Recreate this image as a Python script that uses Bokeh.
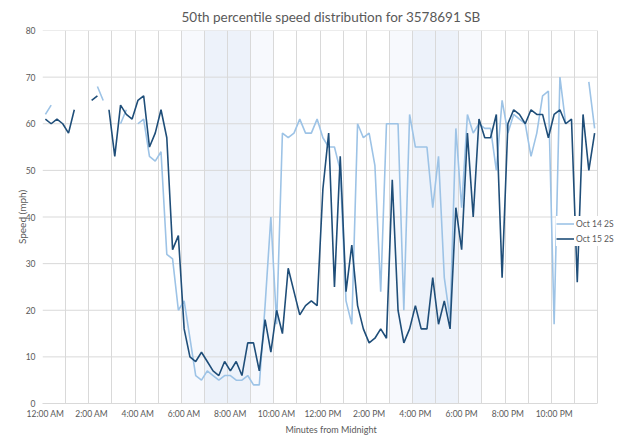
import numpy as np
from bokeh.plotting import figure
from bokeh.models import Range1d, FixedTicker, BoxAnnotation
from bokeh.embed import file_html
from bokeh.resources import INLINE

# 15-minute bins, minutes from midnight
minutes = list(range(0, 1440, 15))

oct14 = [62, 64, None, None, None, None, None, None, None, 68,
         65, None, None, 60, 63, None, 60, 61, 53, 52,
         54, 32, 31, 20, 22, 14, 6, 5, 7, 6,
         5, 6, 6, 5, 5, 6, 4, 4, 21, 40,
         17, 58, 57, 58, 61, 58, 58, 61, 57, 55,
         55, 50, 22, 17, 60, 57, 58, 51, 24, 60,
         60, 60, 20, 62, 55, 55, 55, 42, 53, 27,
         18, 59, 42, 62, 58, 60, 59, 59, 50, 65,
         58, 62, 61, 60, 53, 58, 66, 67, 17, 70,
         60, None, None, None, 69, 59]

oct15 = [61, 60, 61, 60, 58, 63, None, None, 65, 66,
         None, 63, 53, 64, 62, 61, 65, 66, 55, 58,
         63, 57, 33, 36, 16, 10, 9, 11, 9, 7,
         6, 9, 7, 9, 6, 13, 13, 7, 18, 11,
         20, 15, 29, 24, 19, 21, 22, 21, 46, 58,
         25, 53, 24, 34, 21, 16, 13, 14, 16, 14,
         48, 20, 13, 16, 21, 16, 16, 27, 17, 22,
         16, 42, 33, 58, 40, 61, 57, 57, 62, 27,
         60, 63, 62, 60, 63, 62, 62, 57, 62, 63,
         60, 61, 26, 62, 50, 58]

tick_minutes = [0, 120, 240, 360, 480, 600, 720, 840, 960, 1080, 1200, 1320]
tick_labels = ["12:00 AM", "2:00 AM", "4:00 AM", "6:00 AM", "8:00 AM", "10:00 AM",
               "12:00 PM", "2:00 PM", "4:00 PM", "6:00 PM", "8:00 PM", "10:00 PM"]
y_ticks = [0, 10, 20, 30, 40, 50, 60, 70, 80]

# peak-period shading (hours)
outer_bands = [(6, 10), (15, 19)]
inner_bands = [(7, 9), (16, 18)]

BIN = 15
HALF = BIN / 2
TEXT = "#595959"
GRID = "#d9d9d9"
FONT = "Lato"

W, H = 619, 437
LEFT, TOP, BOTTOM = 42, 30, 32
PLOT_W = 555  # pixel width of the 24-hour span
x_start = -HALF
x_end = -HALF + 1440 * (W - LEFT) / PLOT_W

p = figure(width=W, height=H, output_backend="svg", toolbar_location=None,
           x_range=Range1d(x_start, x_end), y_range=Range1d(0, 80),
           min_border_left=LEFT, min_border_right=0, min_border_top=TOP,
           min_border_bottom=BOTTOM)

p.title.text = "50th percentile speed distribution for 3578691 SB"
p.title.align = "left"
p.title.offset = 139
p.title.text_font = FONT
p.title.text_font_size = "13.5px"
p.title.text_font_style = "normal"
p.title.text_color = TEXT
p.title.standoff = 11

p.outline_line_color = None

for a, b in outer_bands:
    p.add_layout(BoxAnnotation(left=a * 60 - HALF, right=b * 60 - HALF,
                               fill_color="#f7f9fd", fill_alpha=1,
                               line_color=None, level="image"))
for a, b in inner_bands:
    p.add_layout(BoxAnnotation(left=a * 60 - HALF, right=b * 60 - HALF,
                               fill_color="#edf2fa", fill_alpha=1,
                               line_color=None, level="image"))

# horizontal gridlines limited to the 24-hour span
gy = y_ticks[1:]
p.segment(x0=[-HALF] * len(gy), y0=gy, x1=[1440 - HALF] * len(gy), y1=gy,
          line_color=GRID, line_width=1, level="underlay")
p.ygrid.visible = False

y14 = np.array(oct14, dtype=float)
y15 = np.array(oct15, dtype=float)
p.line(minutes, y14, line_color="#9dc3e6", line_width=1.6, legend_label="Oct 14 2S")
p.line(minutes, y15, line_color="#1f4e79", line_width=1.6, legend_label="Oct 15 2S")

# axes
xa = p.xaxis[0]
xa.ticker = FixedTicker(ticks=tick_minutes)
xa.major_label_overrides = {m: l for m, l in zip(tick_minutes, tick_labels)}
xa.bounds = (-HALF, 1440 - HALF)
xa.major_tick_out = 0
xa.major_tick_in = 0
xa.minor_tick_out = 0
xa.minor_tick_in = 0
xa.axis_line_color = GRID
xa.major_label_standoff = 5
xa.major_label_text_font = FONT
xa.major_label_text_font_size = "8.5px"
xa.major_label_text_color = TEXT
xa.axis_label = "Minutes from Midnight"
xa.axis_label_text_font = FONT
xa.axis_label_text_font_size = "9px"
xa.axis_label_text_font_style = "normal"
xa.axis_label_text_color = TEXT
xa.axis_label_standoff = 2

ya = p.yaxis[0]
ya.ticker = FixedTicker(ticks=y_ticks)
ya.major_tick_out = 0
ya.major_tick_in = 0
ya.minor_tick_out = 0
ya.minor_tick_in = 0
ya.axis_line_color = None
ya.major_label_standoff = 7
ya.major_label_text_font = FONT
ya.major_label_text_font_size = "8.5px"
ya.major_label_text_color = TEXT
ya.axis_label = "Speed (mph)"
ya.axis_label_text_font = FONT
ya.axis_label_text_font_size = "10px"
ya.axis_label_text_font_style = "normal"
ya.axis_label_text_color = TEXT
ya.axis_label_standoff = -5

p.xgrid.ticker = FixedTicker(ticks=[h * 60 - HALF for h in range(25)])
p.xgrid.grid_line_color = GRID

lg = p.legend[0]
lg.location = (514, 157)
lg.background_fill_color = "white"
lg.background_fill_alpha = 1
lg.border_line_color = None
lg.label_text_font = FONT
lg.label_text_font_size = "8.5px"
lg.label_text_color = TEXT
lg.glyph_width = 18
lg.glyph_height = 15
lg.label_height = 15
lg.label_standoff = 2
lg.spacing = 0
lg.padding = 3
lg.margin = 0

open("out.html", "w").write(file_html(p, INLINE))
